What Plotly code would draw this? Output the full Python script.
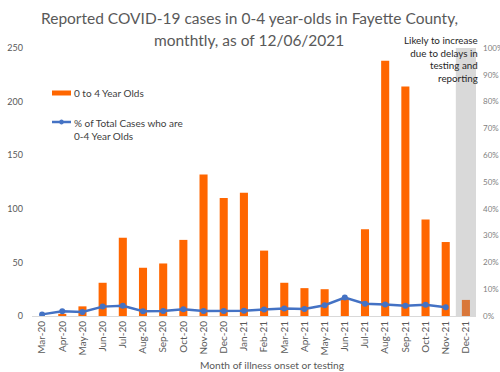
import plotly.graph_objects as go

months = ["Mar-20", "Apr-20", "May-20", "Jun-20", "Jul-20", "Aug-20", "Sep-20", "Oct-20",
          "Nov-20", "Dec-20", "Jan-21", "Feb-21", "Mar-21", "Apr-21", "May-21", "Jun-21",
          "Jul-21", "Aug-21", "Sep-21", "Oct-21", "Nov-21", "Dec-21"]
cases_0_4 = [0, 2, 9, 31, 73, 45, 49, 71, 132, 110, 115, 61, 31, 26, 25, 17,
             81, 238, 214, 90, 69, 15]
pct_of_total = [0.6, 1.8, 1.5, 3.5, 3.8, 1.8, 1.9, 2.5, 1.9, 1.9, 2.0, 2.4, 2.8, 2.6,
                4.0, 6.9, 4.6, 4.3, 3.8, 4.2, 3.3]
pct_months = months[:len(pct_of_total)]

left_ticks = [0, 50, 100, 150, 200, 250]
right_ticks = [0, 10, 20, 30, 40, 50, 60, 70, 80, 90, 100]

title_lines = ["Reported COVID-19 cases in 0-4 year-olds in Fayette County,",
               "monthtly, as of 12/06/2021"]

bar_colors = ["#FF6600"] * (len(months) - 1) + ["#D9773A"]

FONT = "Lato, Open Sans, sans-serif"

# plot area in pixels: x 32..476, y 48..316
L, R, T, B = 32, 476, 48, 316


def px(xp):
    return (xp - L) / (R - L)


def py(yp):
    return (B - yp) / (B - T)


fig = go.Figure()
fig.add_trace(go.Bar(
    x=months, y=cases_0_4, name="0 to 4 Year Olds",
    marker=dict(color=bar_colors, line=dict(width=0)),
    width=0.4,
))
fig.add_trace(go.Scatter(
    x=pct_months, y=pct_of_total, yaxis="y2", mode="lines+markers",
    name="% of Total Cases who are 0-4 Year Olds",
    line=dict(color="#4472C4", width=2.5),
    marker=dict(color="#4472C4", size=6, symbol="circle"),
))

# grey shaded region for the incomplete last month
fig.add_shape(type="rect", xref="x", yref="y2", x0=20.5, x1=21.5, y0=0, y1=101.5,
              fillcolor="#D9D9D9", line=dict(width=0), layer="below")

# manual legend
fig.add_shape(type="rect", xref="paper", yref="paper", x0=px(52), x1=px(71),
              y0=py(95.5), y1=py(90.5), fillcolor="#FF6600", line=dict(width=0))
fig.add_shape(type="line", xref="paper", yref="paper", x0=px(52), x1=px(71),
              y0=py(122), y1=py(122), line=dict(color="#4472C4", width=2.5))
fig.add_shape(type="circle", xref="paper", yref="paper", x0=px(59.5), x1=px(63.5),
              y0=py(124), y1=py(120), fillcolor="#4472C4", line=dict(color="#4472C4", width=1))
legend_font = dict(family=FONT, size=10, color="#404040")
fig.add_annotation(text="0 to 4 Year Olds", xref="paper", yref="paper",
                   x=px(72), y=py(93), xanchor="left", yanchor="middle",
                   showarrow=False, font=legend_font, align="left")
fig.add_annotation(text="% of Total Cases who are<br>0-4 Year Olds", xref="paper", yref="paper",
                   x=px(72), y=py(115), xanchor="left", yanchor="top",
                   showarrow=False, font=legend_font, align="left")

for line_text, yc in zip(title_lines, [18, 40]):
    fig.add_annotation(
        text=line_text, xref="paper", yref="paper", x=px(249), y=py(yc),
        xanchor="center", yanchor="middle", align="center", showarrow=False,
        font=dict(family=FONT, size=15.5, color="#595959"),
    )
fig.add_annotation(
    text="Likely to increase<br>due to delays in<br>testing and<br>reporting",
    xref="paper", yref="paper", x=px(480), y=py(32), xanchor="right", yanchor="top",
    align="right", showarrow=False, font=dict(family=FONT, size=9.8, color="#262626"),
)
fig.add_annotation(
    text="Month of illness onset or testing",
    xref="paper", yref="paper", x=px(272), y=py(365), xanchor="center", yanchor="middle",
    showarrow=False, font=dict(family=FONT, size=10.2, color="#595959"),
)

fig.update_layout(
    width=500, height=372,
    margin=dict(l=L, r=500 - R, t=T, b=372 - B, autoexpand=False),
    paper_bgcolor="white", plot_bgcolor="white",
    font=dict(family=FONT, color="#595959"),
    showlegend=False,
    bargap=0.6,
    xaxis=dict(
        type="category", categoryorder="array", categoryarray=months,
        tickangle=-90, tickfont=dict(size=10, color="#595959"), automargin=False,
        showline=True, linecolor="#D9D9D9", linewidth=1, ticks="", showgrid=False,
        range=[-0.5, len(months) - 0.5],
    ),
    yaxis=dict(
        range=[0, 250], tickvals=left_ticks, showgrid=False, zeroline=False, automargin=False,
        tickfont=dict(size=9, color="#595959"), ticks="", ticklabelstandoff=8,
    ),
    yaxis2=dict(
        overlaying="y", side="right", range=[0, 100], tickvals=right_ticks, automargin=False,
        ticktext=[f"{v}%" for v in right_ticks], showgrid=False, zeroline=False,
        tickfont=dict(size=8, color="#7F7F7F"), ticks="", ticklabelstandoff=6,
    ),
)

fig.write_html(
    "out.html",
    config={"displayModeBar": False},
    post_script="document.body.style.margin='0';document.body.style.overflow='hidden';",
)
